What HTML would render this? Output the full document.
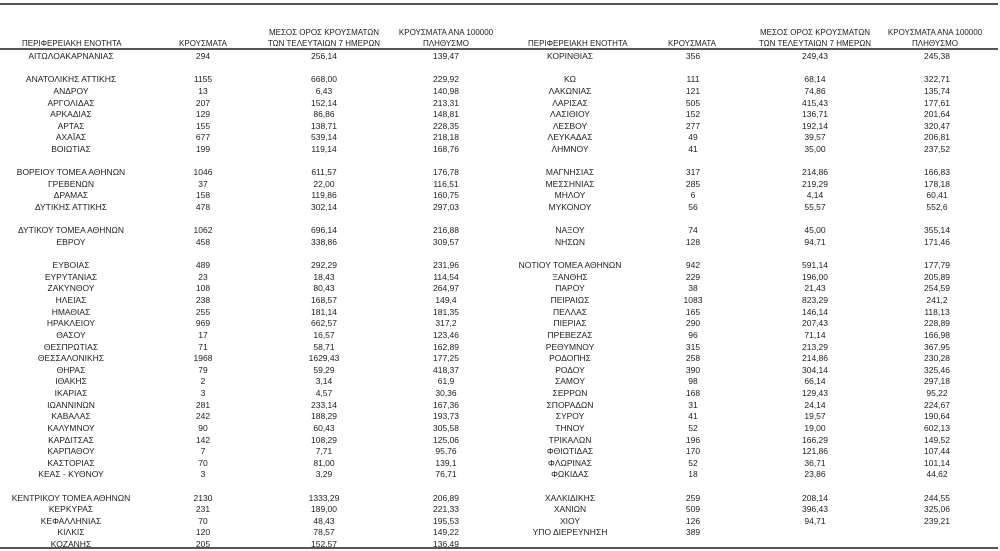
<!DOCTYPE html>
<html><head><meta charset="utf-8"><style>
html,body{margin:0;padding:0;background:#fff;}
body{width:1000px;height:551px;position:relative;overflow:hidden;font-family:"Liberation Sans","DejaVu Sans",sans-serif;color:#1e1e1e;font-size:8.5px;}
.l{position:absolute;left:0;height:2px;background:#555;}
.r{position:absolute;left:0;width:1000px;height:12px;line-height:12px;}
.r span,.h span{position:absolute;top:0;text-align:center;white-space:nowrap;line-height:12px;}
.r span:nth-child(1){left:1px;width:140px}
.r span:nth-child(2){left:173px;width:60px}
.r span:nth-child(3){left:274px;width:100px}
.r span:nth-child(4){left:396px;width:100px}
.r span:nth-child(5){left:500px;width:140px}
.r span:nth-child(6){left:663px;width:60px}
.r span:nth-child(7){left:765px;width:100px}
.r span:nth-child(8){left:887px;width:100px}
.h{position:absolute;left:0;top:27px;width:1000px;font-size:8px;}
.h span{line-height:11px;}
</style></head><body>
<div class="l" style="top:3px;width:998px"></div>
<div class="l" style="top:48px;width:998px;height:1.5px"></div>
<div class="l" style="top:547px;width:998px;height:1.5px"></div>
<div class="h">
<span style="left:22px;top:11px">ΠΕΡΙΦΕΡΕΙΑΚΗ ΕΝΟΤΗΤΑ</span>
<span style="left:173px;width:60px;top:11px">ΚΡΟΥΣΜΑΤΑ</span>
<span style="left:264px;width:120px;top:0">ΜΕΣΟΣ ΟΡΟΣ ΚΡΟΥΣΜΑΤΩΝ<br>ΤΩΝ ΤΕΛΕΥΤΑΙΩΝ 7 ΗΜΕΡΩΝ</span>
<span style="left:386px;width:120px;top:0">ΚΡΟΥΣΜΑΤΑ ΑΝΑ 100000<br>ΠΛΗΘΥΣΜΟ</span>
<span style="left:528px;top:11px">ΠΕΡΙΦΕΡΕΙΑΚΗ ΕΝΟΤΗΤΑ</span>
<span style="left:662px;width:60px;top:11px">ΚΡΟΥΣΜΑΤΑ</span>
<span style="left:755px;width:120px;top:0">ΜΕΣΟΣ ΟΡΟΣ ΚΡΟΥΣΜΑΤΩΝ<br>ΤΩΝ ΤΕΛΕΥΤΑΙΩΝ 7 ΗΜΕΡΩΝ</span>
<span style="left:875px;width:120px;top:0">ΚΡΟΥΣΜΑΤΑ ΑΝΑ 100000<br>ΠΛΗΘΥΣΜΟ</span>
</div>

<div class="r" style="top:50px"><span>ΑΙΤΩΛΟΑΚΑΡΝΑΝΙΑΣ</span><span>294</span><span>256,14</span><span>139,47</span><span>ΚΟΡΙΝΘΙΑΣ</span><span>356</span><span>249,43</span><span>245,38</span></div>
<div class="r" style="top:73.2px"><span>ΑΝΑΤΟΛΙΚΗΣ ΑΤΤΙΚΗΣ</span><span>1155</span><span>668,00</span><span>229,92</span><span>ΚΩ</span><span>111</span><span>68,14</span><span>322,71</span></div>
<div class="r" style="top:84.9px"><span>ΑΝΔΡΟΥ</span><span>13</span><span>6,43</span><span>140,98</span><span>ΛΑΚΩΝΙΑΣ</span><span>121</span><span>74,86</span><span>135,74</span></div>
<div class="r" style="top:96.5px"><span>ΑΡΓΟΛΙΔΑΣ</span><span>207</span><span>152,14</span><span>213,31</span><span>ΛΑΡΙΣΑΣ</span><span>505</span><span>415,43</span><span>177,61</span></div>
<div class="r" style="top:108.1px"><span>ΑΡΚΑΔΙΑΣ</span><span>129</span><span>86,86</span><span>148,81</span><span>ΛΑΣΙΘΙΟΥ</span><span>152</span><span>136,71</span><span>201,64</span></div>
<div class="r" style="top:119.7px"><span>ΑΡΤΑΣ</span><span>155</span><span>138,71</span><span>228,35</span><span>ΛΕΣΒΟΥ</span><span>277</span><span>192,14</span><span>320,47</span></div>
<div class="r" style="top:131.3px"><span>ΑΧΑΪΑΣ</span><span>677</span><span>539,14</span><span>218,18</span><span>ΛΕΥΚΑΔΑΣ</span><span>49</span><span>39,57</span><span>206,81</span></div>
<div class="r" style="top:143px"><span>ΒΟΙΩΤΙΑΣ</span><span>199</span><span>119,14</span><span>168,76</span><span>ΛΗΜΝΟΥ</span><span>41</span><span>35,00</span><span>237,52</span></div>
<div class="r" style="top:166.2px"><span>ΒΟΡΕΙΟΥ ΤΟΜΕΑ ΑΘΗΝΩΝ</span><span>1046</span><span>611,57</span><span>176,78</span><span>ΜΑΓΝΗΣΙΑΣ</span><span>317</span><span>214,86</span><span>166,83</span></div>
<div class="r" style="top:177.8px"><span>ΓΡΕΒΕΝΩΝ</span><span>37</span><span>22,00</span><span>116,51</span><span>ΜΕΣΣΗΝΙΑΣ</span><span>285</span><span>219,29</span><span>178,18</span></div>
<div class="r" style="top:189.4px"><span>ΔΡΑΜΑΣ</span><span>158</span><span>119,86</span><span>160,75</span><span>ΜΗΛΟΥ</span><span>6</span><span>4,14</span><span>60,41</span></div>
<div class="r" style="top:201.1px"><span>ΔΥΤΙΚΗΣ ΑΤΤΙΚΗΣ</span><span>478</span><span>302,14</span><span>297,03</span><span>ΜΥΚΟΝΟΥ</span><span>56</span><span>55,57</span><span>552,6</span></div>
<div class="r" style="top:224.3px"><span>ΔΥΤΙΚΟΥ ΤΟΜΕΑ ΑΘΗΝΩΝ</span><span>1062</span><span>696,14</span><span>216,88</span><span>ΝΑΞΟΥ</span><span>74</span><span>45,00</span><span>355,14</span></div>
<div class="r" style="top:235.9px"><span>ΕΒΡΟΥ</span><span>458</span><span>338,86</span><span>309,57</span><span>ΝΗΣΩΝ</span><span>128</span><span>94,71</span><span>171,46</span></div>
<div class="r" style="top:259.2px"><span>ΕΥΒΟΙΑΣ</span><span>489</span><span>292,29</span><span>231,96</span><span>ΝΟΤΙΟΥ ΤΟΜΕΑ ΑΘΗΝΩΝ</span><span>942</span><span>591,14</span><span>177,79</span></div>
<div class="r" style="top:270.8px"><span>ΕΥΡΥΤΑΝΙΑΣ</span><span>23</span><span>18,43</span><span>114,54</span><span>ΞΑΝΘΗΣ</span><span>229</span><span>196,00</span><span>205,89</span></div>
<div class="r" style="top:282.4px"><span>ΖΑΚΥΝΘΟΥ</span><span>108</span><span>80,43</span><span>264,97</span><span>ΠΑΡΟΥ</span><span>38</span><span>21,43</span><span>254,59</span></div>
<div class="r" style="top:294px"><span>ΗΛΕΙΑΣ</span><span>238</span><span>168,57</span><span>149,4</span><span>ΠΕΙΡΑΙΩΣ</span><span>1083</span><span>823,29</span><span>241,2</span></div>
<div class="r" style="top:305.6px"><span>ΗΜΑΘΙΑΣ</span><span>255</span><span>181,14</span><span>181,35</span><span>ΠΕΛΛΑΣ</span><span>165</span><span>146,14</span><span>118,13</span></div>
<div class="r" style="top:317.3px"><span>ΗΡΑΚΛΕΙΟΥ</span><span>969</span><span>662,57</span><span>317,2</span><span>ΠΙΕΡΙΑΣ</span><span>290</span><span>207,43</span><span>228,89</span></div>
<div class="r" style="top:328.9px"><span>ΘΑΣΟΥ</span><span>17</span><span>16,57</span><span>123,46</span><span>ΠΡΕΒΕΖΑΣ</span><span>96</span><span>71,14</span><span>166,98</span></div>
<div class="r" style="top:340.5px"><span>ΘΕΣΠΡΩΤΙΑΣ</span><span>71</span><span>58,71</span><span>162,89</span><span>ΡΕΘΥΜΝΟΥ</span><span>315</span><span>213,29</span><span>367,95</span></div>
<div class="r" style="top:352.1px"><span>ΘΕΣΣΑΛΟΝΙΚΗΣ</span><span>1968</span><span>1629,43</span><span>177,25</span><span>ΡΟΔΟΠΗΣ</span><span>258</span><span>214,86</span><span>230,28</span></div>
<div class="r" style="top:363.7px"><span>ΘΗΡΑΣ</span><span>79</span><span>59,29</span><span>418,37</span><span>ΡΟΔΟΥ</span><span>390</span><span>304,14</span><span>325,46</span></div>
<div class="r" style="top:375.4px"><span>ΙΘΑΚΗΣ</span><span>2</span><span>3,14</span><span>61,9</span><span>ΣΑΜΟΥ</span><span>98</span><span>66,14</span><span>297,18</span></div>
<div class="r" style="top:387px"><span>ΙΚΑΡΙΑΣ</span><span>3</span><span>4,57</span><span>30,36</span><span>ΣΕΡΡΩΝ</span><span>168</span><span>129,43</span><span>95,22</span></div>
<div class="r" style="top:398.6px"><span>ΙΩΑΝΝΙΝΩΝ</span><span>281</span><span>233,14</span><span>167,36</span><span>ΣΠΟΡΑΔΩΝ</span><span>31</span><span>24,14</span><span>224,67</span></div>
<div class="r" style="top:410.2px"><span>ΚΑΒΑΛΑΣ</span><span>242</span><span>188,29</span><span>193,73</span><span>ΣΥΡΟΥ</span><span>41</span><span>19,57</span><span>190,64</span></div>
<div class="r" style="top:421.8px"><span>ΚΑΛΥΜΝΟΥ</span><span>90</span><span>60,43</span><span>305,58</span><span>ΤΗΝΟΥ</span><span>52</span><span>19,00</span><span>602,13</span></div>
<div class="r" style="top:433.5px"><span>ΚΑΡΔΙΤΣΑΣ</span><span>142</span><span>108,29</span><span>125,06</span><span>ΤΡΙΚΑΛΩΝ</span><span>196</span><span>166,29</span><span>149,52</span></div>
<div class="r" style="top:445.1px"><span>ΚΑΡΠΑΘΟΥ</span><span>7</span><span>7,71</span><span>95,76</span><span>ΦΘΙΩΤΙΔΑΣ</span><span>170</span><span>121,86</span><span>107,44</span></div>
<div class="r" style="top:456.7px"><span>ΚΑΣΤΟΡΙΑΣ</span><span>70</span><span>81,00</span><span>139,1</span><span>ΦΛΩΡΙΝΑΣ</span><span>52</span><span>36,71</span><span>101,14</span></div>
<div class="r" style="top:468.3px"><span>ΚΕΑΣ - ΚΥΘΝΟΥ</span><span>3</span><span>3,29</span><span>76,71</span><span>ΦΩΚΙΔΑΣ</span><span>18</span><span>23,86</span><span>44,62</span></div>
<div class="r" style="top:491.6px"><span>ΚΕΝΤΡΙΚΟΥ ΤΟΜΕΑ ΑΘΗΝΩΝ</span><span>2130</span><span>1333,29</span><span>206,89</span><span>ΧΑΛΚΙΔΙΚΗΣ</span><span>259</span><span>208,14</span><span>244,55</span></div>
<div class="r" style="top:503.2px"><span>ΚΕΡΚΥΡΑΣ</span><span>231</span><span>189,00</span><span>221,33</span><span>ΧΑΝΙΩΝ</span><span>509</span><span>396,43</span><span>325,06</span></div>
<div class="r" style="top:514.8px"><span>ΚΕΦΑΛΛΗΝΙΑΣ</span><span>70</span><span>48,43</span><span>195,53</span><span>ΧΙΟΥ</span><span>126</span><span>94,71</span><span>239,21</span></div>
<div class="r" style="top:526.4px"><span>ΚΙΛΚΙΣ</span><span>120</span><span>78,57</span><span>149,22</span><span>ΥΠΟ ΔΙΕΡΕΥΝΗΣΗ</span><span>389</span><span></span><span></span></div>
<div class="r" style="top:538px"><span>ΚΟΖΑΝΗΣ</span><span>205</span><span>152,57</span><span>136,49</span><span></span><span></span><span></span><span></span></div>
</body></html>
